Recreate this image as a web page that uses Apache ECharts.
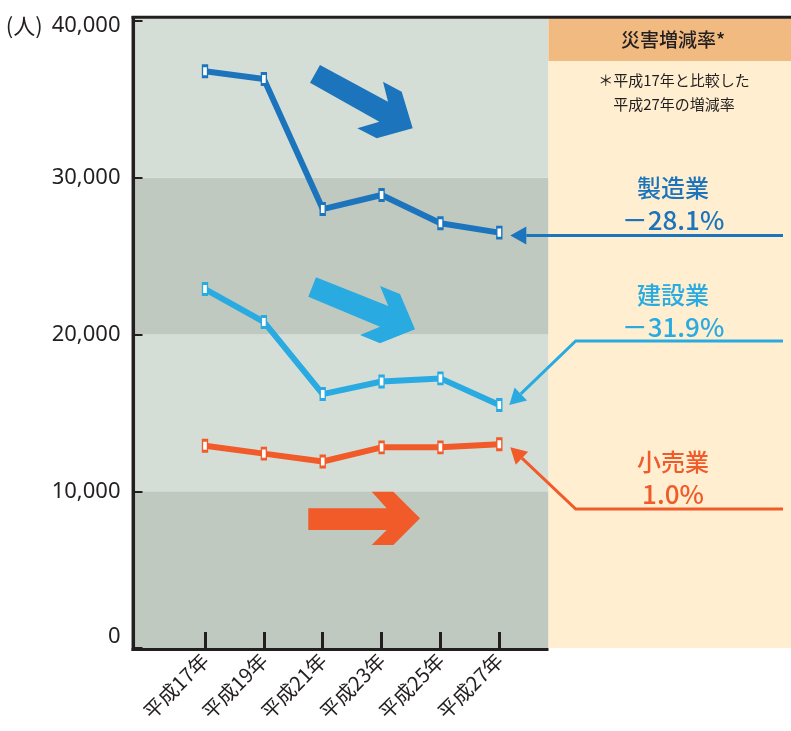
<!DOCTYPE html>
<html><head><meta charset="utf-8">
<script src="https://cdn.jsdelivr.net/npm/echarts@6/dist/echarts.min.js"></script>
<style>html,body{margin:0;padding:0;background:#fff}#c{width:791px;height:731px}</style>
</head><body><div id="c"></div>
<script>
const categories = ['平成17年','平成19年','平成21年','平成23年','平成25年','平成27年'];
const manufacturing = [36800, 36300, 28000, 28900, 27100, 26500];
const construction = [22900, 20800, 16200, 17000, 17200, 15500];
const retail = [12900, 12400, 11900, 12800, 12800, 13000];
const yTicks = [0, 10000, 20000, 30000, 40000];
const seriesNames = ['製造業','建設業','小売業'];
const rates = ['－28.1%','－31.9%','1.0%'];
const panelTitle = '災害増減率*';
const panelNote = ['＊平成17年と比較した','平成27年の増減率'];
const unitLabel = '(人)';

const C_MFG = '#1C75BC', C_CON = '#29ABE2', C_RET = '#F15A29';
const INK = '#231F20';
const NUMF = "'Noto Sans','Noto Sans CJK JP',sans-serif";
const CJK = "'Noto Sans CJK JP','Noto Sans',sans-serif";

const chart = echarts.init(document.getElementById('c'), null, {renderer:'canvas'});

function lineSeries(name, data, color) {
  return {
    name, type:'line', xAxisIndex:1, yAxisIndex:1, data,
    lineStyle:{width:6, color},
    symbol:'rect', symbolSize:[5,11],
    itemStyle:{color:'#fff', borderColor:color, borderWidth:2},
    z:3
  };
}

chart.setOption({
  animation:false,
  grid:[
    {left:133.5, top:21, width:415, height:627, containLabel:false, outerBoundsMode:'none'},
    {left:205, top:21, width:294.3, height:627, containLabel:false, outerBoundsMode:'none'}
  ],
  xAxis:[
    {gridIndex:0, type:'value', show:false, min:0, max:1},
    {gridIndex:1, type:'category', data:categories, boundaryGap:false,
     axisLine:{show:false},
     axisTick:{show:true, inside:true, length:16, lineStyle:{width:3, color:INK}},
     axisLabel:{rotate:45, margin:9, fontSize:20, color:INK, fontFamily:CJK},
     splitLine:{show:false}}
  ],
  yAxis:[
    {gridIndex:0, type:'value', min:yTicks[0], max:yTicks[yTicks.length-1], interval:yTicks[1]-yTicks[0],
     axisLine:{show:false},
     axisTick:{show:true, inside:true, length:9, lineStyle:{width:2, color:INK}},
     splitLine:{show:false},
     splitArea:{show:true, areaStyle:{color:['#BFC9BF','#D5DED6']}},
     axisLabel:{margin:13, fontSize:22, color:INK, fontFamily:NUMF,
       formatter:function(v){
         if (v === 0) return '{z|0}';
         const s = v.toLocaleString('en-US');
         if (v === yTicks[yTicks.length-1]) return '{u|' + unitLabel + '}{n|' + s + '}';
         return s;
       },
       rich:{
         z:{fontSize:22, fontFamily:NUMF, color:INK, padding:[0,0,22,0]},
         n:{fontSize:22, fontFamily:NUMF, color:INK, padding:[10,0,0,0]},
         u:{fontSize:22, fontFamily:CJK, color:INK, padding:[10,9,0,0]}
       }}
    },
    {gridIndex:1, type:'value', min:yTicks[0], max:yTicks[yTicks.length-1], show:false}
  ],
  series:[
    lineSeries(seriesNames[0], manufacturing, C_MFG),
    lineSeries(seriesNames[1], construction, C_CON),
    lineSeries(seriesNames[2], retail, C_RET)
  ]
});

function px(si, data) {
  const i = data.length - 1;
  return chart.convertToPixel({seriesIndex:si}, [i, data[i]]);
}

function arrow(points, color) {
  const n = points.length;
  const tip = points[n-1], prev = points[n-2];
  const dx = tip[0]-prev[0], dy = tip[1]-prev[1];
  const L = Math.hypot(dx, dy), ux = dx/L, uy = dy/L;
  const len = 16, hw = 9;
  const bx = tip[0]-ux*len, by = tip[1]-uy*len;
  const pts = points.slice(0, n-1).concat([[bx, by]]);
  return [
    {type:'polyline', z:6, shape:{points:pts}, style:{stroke:color, lineWidth:3, fill:null}},
    {type:'polygon', z:6, shape:{points:[tip, [bx - uy*hw, by + ux*hw], [bx + uy*hw, by - ux*hw]]}, style:{fill:color}}
  ];
}

function txt(text, x, y, color, size, family, weight) {
  return {type:'text', z:7, style:{text, x, y, fill:color, fontSize:size, fontFamily:family,
          fontWeight:weight || 'normal', align:'center', verticalAlign:'middle'}};
}

const pM = px(0, manufacturing), pC = px(1, construction), pR = px(2, retail);

const g = [];
g.push({type:'rect', z:0, shape:{x:133.5, y:17, width:415, height:4.5}, style:{fill:'#D5DED6'}});
g.push({type:'rect', z:1, shape:{x:548.5, y:18.5, width:243, height:629.5}, style:{fill:'#FFEED0'}});
g.push({type:'rect', z:1, shape:{x:548.5, y:18.5, width:243, height:42.5}, style:{fill:'#F0BA80'}});
g.push(txt(panelTitle, 673, 40, INK, 19, CJK, 500));
g.push(txt(panelNote[0], 674, 80, INK, 15, CJK));
g.push(txt(panelNote[1], 674, 104, INK, 15, CJK));
g.push({type:'line', z:10, shape:{x1:133.3, y1:16, x2:133.3, y2:651}, style:{stroke:INK, lineWidth:3.5}});
g.push({type:'line', z:10, shape:{x1:131.6, y1:17.3, x2:791, y2:17.3}, style:{stroke:INK, lineWidth:3}});
g.push({type:'line', z:10, shape:{x1:131.6, y1:649.5, x2:548.5, y2:649.5}, style:{stroke:INK, lineWidth:3}});
g.push({type:'polygon', z:5, shape:{points:[[320,65],[388,101.7],[383,81.7],[401.7,91.7],[412.7,128.3],[376.7,138.3],[357.3,128.3],[379.3,121.7],[310,82.7]]}, style:{fill:C_MFG}});
g.push({type:'polygon', z:5, shape:{points:[[316,277.3],[388.3,306],[380,286],[400,294],[415,329.3],[380,343.3],[360,335],[380,326.7],[308.3,296.7]]}, style:{fill:C_CON}});
g.push({type:'polygon', z:5, shape:{points:[[308.3,508.3],[386.7,508.3],[371.7,491.7],[393.3,491.7],[420,518.3],[393.3,545],[371.7,545],[386.7,530],[308.3,530]]}, style:{fill:C_RET}});
g.push(txt(seriesNames[0], 673, 188, C_MFG, 24, CJK, 500));
g.push(txt(rates[0], 673, 220, C_MFG, 26, CJK, 500));
g.push(txt(seriesNames[1], 673, 295, C_CON, 24, CJK, 500));
g.push(txt(rates[1], 673, 327, C_CON, 26, CJK, 500));
g.push(txt(seriesNames[2], 673, 462, C_RET, 24, CJK, 500));
g.push(txt(rates[2], 673, 494, C_RET, 26, CJK, 500));
const tM = [pM[0]+11, pM[1]+3];
g.push(...arrow([[783, tM[1]], tM], C_MFG));
g.push(...arrow([[783, 341], [575.7, 341], [pC[0]+10, pC[1]]], C_CON));
g.push(...arrow([[783, 509], [575.7, 509], [pR[0]+11, pR[1]+3]], C_RET));

chart.setOption({graphic:{elements:g}});
</script></body></html>
